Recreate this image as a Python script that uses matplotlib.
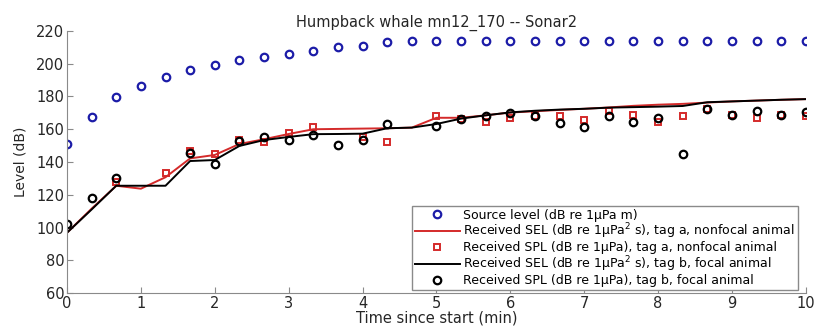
import numpy as np
import matplotlib
matplotlib.use('Agg')
import matplotlib.pyplot as plt

plt.rcParams['font.family'] = ['DejaVu Sans']
plt.rcParams['mathtext.fontset'] = 'dejavusans'

# sample times, one every 20 s (min)
t_min = np.arange(31) / 3.0

source_level = [151, 167.5, 179.5, 186.5, 192, 196, 199, 202, 204, 206, 208,
                210, 211, 213, 214, 214, 214, 214, 214, 214, 214,
                214, 214, 214, 214, 214, 214, 214, 214, 214, 214]

sel_tag_a = [96.8, 111.5, 125.5, 123.7, 130.7, 142.2, 144.3, 151, 153.9, 157.1, 160,
             160.2, 160.4, 160.6, 161, 167, 167, 168.5, 170.2, 171, 171.8,
             172.5, 173.3, 174.3, 175, 175.5, 176.3, 177, 177.5, 178, 178.4]

spl_tag_a = [np.nan, np.nan, 127.6, np.nan, 133.5, 146.7, 144.9, 153.2, 152, 157.6, 161.6,
             np.nan, 155, 152, np.nan, 167.9, 166.3, 164.6, 167.1, 168.3, 168.3,
             165.6, 171.3, 168.7, 164.2, 168.1, 172.4, 168.7, 167.1, 168.7, 168.1]

sel_tag_b = [96.8, 111, 125.5, 125.5, 125.5, 140.6, 141.2, 149.8, 153.4, 155.3, 157,
             157.1, 157.3, 160.6, 161, 163.2, 166.5, 168.5, 170.3, 171.3, 172,
             172.5, 173.2, 173.5, 173.8, 174.2, 176.5, 177, 177.5, 178, 178.4]

spl_tag_b = [102, 117.8, 130, np.nan, np.nan, 145.3, 138.6, 152.8, 155.2, 153.7, 156.5,
             150.2, 153.7, 163.3, np.nan, 161.8, 166.3, 168.3, 169.7, 168.3, 163.6,
             161.2, 168.1, 164.2, 166.7, 144.9, 172.4, 168.7, 171.3, 168.7, 170.7]

fig = plt.figure(figsize=(8.14, 3.28), dpi=100)
ax = fig.add_axes([0.0823, 0.1067, 0.9077, 0.7988])

ax.plot(t_min, source_level, 'o', color='#1c1ca8', mfc='none', ms=5.4, mew=1.6,
        label='Source level (dB re 1\u03bcPa m)')
ax.plot(t_min, sel_tag_a, '-', color='#d42a2a', lw=1.4,
        label='Received SEL (dB re 1\u03bcPa$^2$ s), tag a, nonfocal animal')
ax.plot(t_min, spl_tag_a, 's', color='#d42a2a', mfc='none', ms=5, mew=1.4,
        label='Received SPL (dB re 1\u03bcPa), tag a, nonfocal animal')
ax.plot(t_min, sel_tag_b, '-', color='black', lw=1.4,
        label='Received SEL (dB re 1\u03bcPa$^2$ s), tag b, focal animal')
ax.plot(t_min, spl_tag_b, 'o', color='black', mfc='none', ms=5.4, mew=1.6,
        label='Received SPL (dB re 1\u03bcPa), tag b, focal animal')

ax.set_xlim(0, 10)
ax.set_ylim(60, 220)
ax.set_xticks(range(0, 11))
ax.set_yticks(range(60, 221, 20))
ax.tick_params(direction='in', length=4, labelsize=10.5, colors='#8a8a8a',
               labelcolor='#262626', pad=2)
for side in ['top', 'right']:
    ax.spines[side].set_visible(False)
for side in ['left', 'bottom']:
    ax.spines[side].set_color('#8a8a8a')

ax.set_xlabel('Time since start (min)', fontsize=10.5, color='#262626', labelpad=0)
ax.set_ylabel('Level (dB)', fontsize=10, color='#262626', labelpad=6)
ax.set_title('Humpback whale mn12_170 -- Sonar2', fontsize=10.5, color='#262626', pad=2)

leg = ax.legend(loc='lower right', bbox_to_anchor=(0.989, 0.011), fontsize=9,
                numpoints=1, handlelength=3.6, handletextpad=0.25, labelspacing=0.0,
                borderpad=0.25, fancybox=False, framealpha=1, borderaxespad=0)
leg.get_frame().set_edgecolor('#8a8a8a')
leg.get_frame().set_linewidth(1.0)

fig.savefig('out.png', dpi=100)
